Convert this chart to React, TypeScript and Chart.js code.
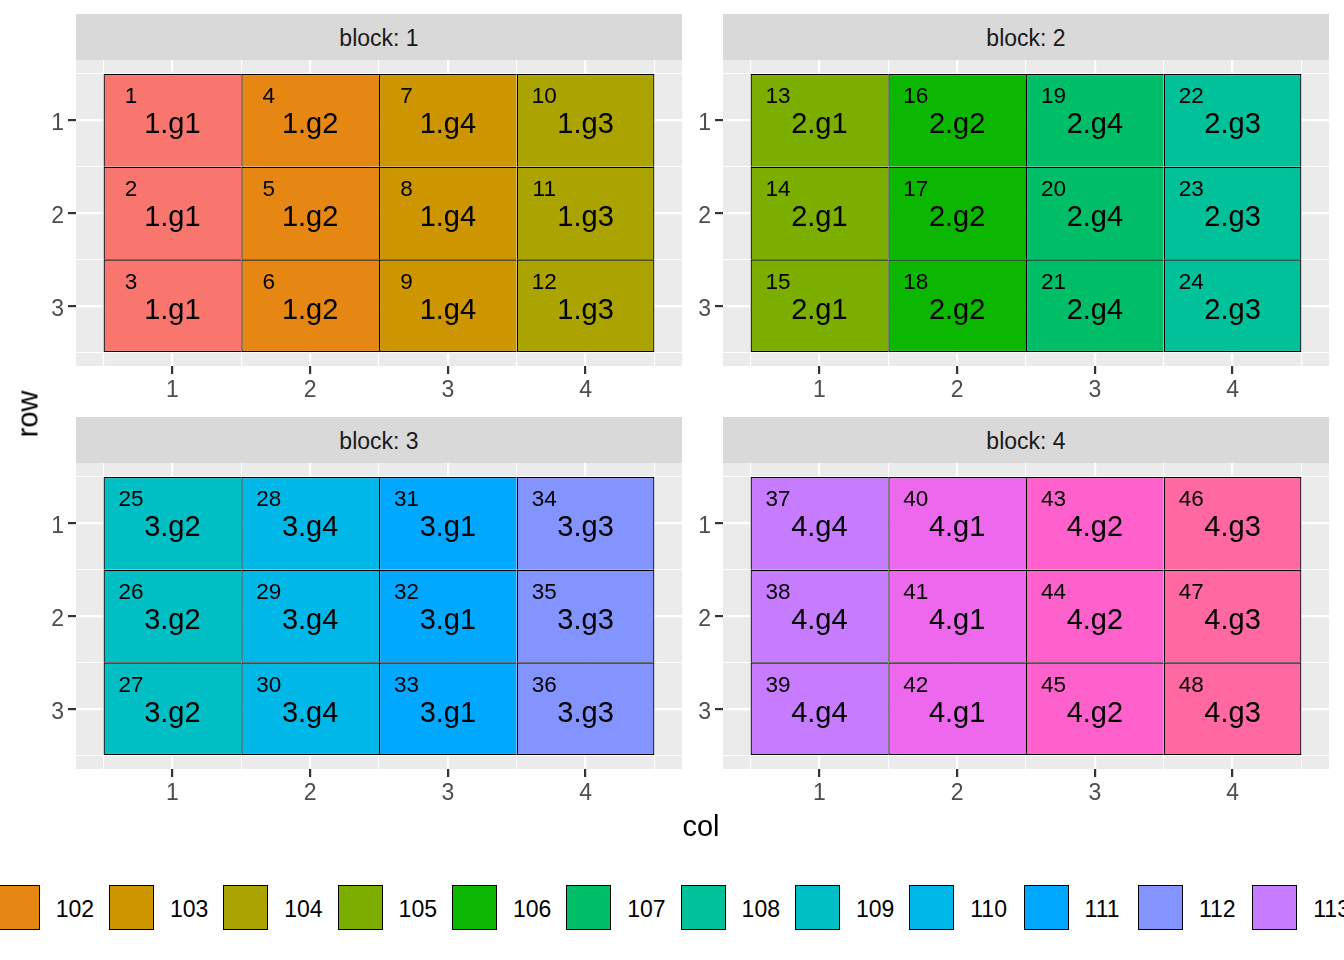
import React, { useEffect, useRef } from 'react';
import { Chart, registerables } from 'chart.js';

Chart.register(...registerables);

// ---------------- data ----------------
const blockNames = ['1', '2', '3', '4'];
const cols = [1, 2, 3, 4];
const rows = [1, 2, 3];

const block1Genotypes = ['1.g1', '1.g2', '1.g4', '1.g3'];
const block2Genotypes = ['2.g1', '2.g2', '2.g4', '2.g3'];
const block3Genotypes = ['3.g2', '3.g4', '3.g1', '3.g3'];
const block4Genotypes = ['4.g4', '4.g1', '4.g2', '4.g3'];

const block1Plots = [101, 102, 103, 104];
const block2Plots = [105, 106, 107, 108];
const block3Plots = [109, 110, 111, 112];
const block4Plots = [113, 114, 115, 116];

// unit ids per column (top→bottom rows)
const block1Ids = [[1, 2, 3], [4, 5, 6], [7, 8, 9], [10, 11, 12]];
const block2Ids = [[13, 14, 15], [16, 17, 18], [19, 20, 21], [22, 23, 24]];
const block3Ids = [[25, 26, 27], [28, 29, 30], [31, 32, 33], [34, 35, 36]];
const block4Ids = [[37, 38, 39], [40, 41, 42], [43, 44, 45], [46, 47, 48]];

const plotLabels = ['101', '102', '103', '104', '105', '106', '107', '108',
  '109', '110', '111', '112', '113', '114', '115', '116'];
const plotColors = ['#F8766D', '#E68613', '#CD9600', '#ABA300', '#7CAE00', '#0CB702',
  '#00BE67', '#00C19A', '#00BFC4', '#00B8E7', '#00A9FF', '#8494FF', '#C77CFF',
  '#ED68ED', '#FF61CC', '#FF68A1'];

const xMajorTicks = [1, 2, 3, 4];
const xMinorTicks = [0.5, 1.5, 2.5, 3.5, 4.5];
const yMajorTicks = [1, 2, 3];
const yMinorTicks = [0.5, 1.5, 2.5, 3.5];
const xRange = [0.3, 4.7];
const yRange = [0.35, 3.65];

// ---------------- layout / style ----------------
const FONT = "'Liberation Sans', Arial, Helvetica, sans-serif";
const panelLeft = [76, 723, 76, 723];
const panelTop = [60, 60, 463, 463];
const PANEL_W = 606;
const PANEL_H = 306;
const STRIP_H = 46;
const AXIS_W = 46;
const AXIS_H = 44;
const ID_DX = -0.3;
const ID_DY = -0.25;
const GENO_DY = 0.055;

const legendLeft = -119.7;
const legendStep = 114.33;

const panels = [
  { block: blockNames[0], genotypes: block1Genotypes, plots: block1Plots, ids: block1Ids },
  { block: blockNames[1], genotypes: block2Genotypes, plots: block2Plots, ids: block2Ids },
  { block: blockNames[2], genotypes: block3Genotypes, plots: block3Plots, ids: block3Ids },
  { block: blockNames[3], genotypes: block4Genotypes, plots: block4Plots, ids: block4Ids },
];

const panelBg = {
  id: 'panelBg',
  beforeDraw(chart: any) {
    const { ctx, chartArea } = chart;
    ctx.save();
    ctx.fillStyle = '#EBEBEB';
    ctx.fillRect(chartArea.left, chartArea.top, chartArea.width, chartArea.height);
    ctx.restore();
  },
};

function makeLabelPlugin(p: any) {
  return {
    id: 'tileLabels',
    afterDatasetsDraw(chart: any) {
      const { ctx } = chart;
      const x = chart.scales.x;
      const y = chart.scales.y;
      ctx.save();
      ctx.fillStyle = '#000000';
      ctx.textAlign = 'center';
      ctx.textBaseline = 'middle';
      cols.forEach((c, ci) => {
        rows.forEach((r, ri) => {
          ctx.font = `22.5px ${FONT}`;
          ctx.fillText(String(p.ids[ci][ri]), x.getPixelForValue(c + ID_DX), y.getPixelForValue(r + ID_DY));
          ctx.font = `29px ${FONT}`;
          ctx.fillText(p.genotypes[ci], x.getPixelForValue(c), y.getPixelForValue(r + GENO_DY));
        });
      });
      ctx.restore();
    },
  };
}

function noPad(s: any) {
  s.paddingTop = 0;
  s.paddingBottom = 0;
  s.paddingLeft = 0;
  s.paddingRight = 0;
}

function buildChart(canvas: HTMLCanvasElement, p: any) {
  const datasets = cols.map((c, ci) => ({
    label: plotLabels[p.plots[ci] - 101],
    data: rows.map((r) => ({ x: c, y: [r - 0.5, r + 0.5] })),
    backgroundColor: plotColors[p.plots[ci] - 101],
    borderColor: '#000000',
    borderWidth: (ctx: any) => {
      const r = rows[ctx.dataIndex];
      return {
        top: 1.3,
        left: 1.3,
        right: ci === cols.length - 1 ? 1.3 : 0,
        bottom: r === rows[rows.length - 1] ? 1.3 : 0,
      };
    },
    borderSkipped: false,
    inflateAmount: 0,
    grouped: false,
    barPercentage: 1,
    categoryPercentage: 1,
    xAxisID: 'x',
    yAxisID: 'y',
  }));

  const tickFont = { family: FONT, size: 23 };
  return new Chart(canvas, {
    type: 'bar',
    data: { datasets } as any,
    plugins: [panelBg, makeLabelPlugin(p)],
    options: {
      responsive: false,
      animation: false,
      events: [],
      layout: { padding: 0 },
      plugins: { legend: { display: false }, tooltip: { enabled: false }, title: { display: false } },
      scales: {
        x: {
          type: 'linear',
          position: 'bottom',
          min: xRange[0],
          max: xRange[1],
          offset: false,
          afterBuildTicks: (s: any) => { s.ticks = xMajorTicks.map((v) => ({ value: v })); },
          afterFit: (s: any) => { s.height = AXIS_H; noPad(s); },
          grid: { color: '#FFFFFF', lineWidth: 2.2, offset: false, drawTicks: true, tickLength: 8, tickColor: '#333333', tickWidth: 2.2 },
          border: { display: false },
          ticks: { color: '#4D4D4D', font: tickFont, padding: 3, maxRotation: 0, autoSkip: false },
        },
        xMinor: {
          type: 'linear',
          position: 'bottom',
          min: xRange[0],
          max: xRange[1],
          offset: false,
          afterBuildTicks: (s: any) => { s.ticks = xMinorTicks.map((v) => ({ value: v })); },
          afterFit: (s: any) => { s.height = 0; noPad(s); },
          grid: { color: '#FFFFFF', lineWidth: 1.1, offset: false, drawTicks: false },
          border: { display: false },
          ticks: { display: false },
        },
        y: {
          type: 'linear',
          position: 'left',
          reverse: true,
          min: yRange[0],
          max: yRange[1],
          afterBuildTicks: (s: any) => { s.ticks = yMajorTicks.map((v) => ({ value: v })); },
          afterFit: (s: any) => { s.width = AXIS_W; noPad(s); },
          grid: { color: '#FFFFFF', lineWidth: 2.2, offset: false, drawTicks: true, tickLength: 8, tickColor: '#333333', tickWidth: 2.2 },
          border: { display: false },
          ticks: { color: '#4D4D4D', font: tickFont, padding: 4, labelOffset: 3.5, autoSkip: false },
        },
        yMinor: {
          type: 'linear',
          position: 'left',
          reverse: true,
          min: yRange[0],
          max: yRange[1],
          afterBuildTicks: (s: any) => { s.ticks = yMinorTicks.map((v) => ({ value: v })); },
          afterFit: (s: any) => { s.width = 0; noPad(s); },
          grid: { color: '#FFFFFF', lineWidth: 1.1, offset: false, drawTicks: false },
          border: { display: false },
          ticks: { display: false },
        },
      },
    } as any,
  });
}

function Panel({ p, idx }: { p: any; idx: number }) {
  const ref = useRef<HTMLCanvasElement | null>(null);
  useEffect(() => {
    if (!ref.current) return;
    const chart = buildChart(ref.current, p);
    return () => chart.destroy();
  }, [p]);
  const left = panelLeft[idx];
  const top = panelTop[idx];
  const w = PANEL_W + AXIS_W;
  const h = PANEL_H + AXIS_H;
  return (
    <>
      <div
        style={{
          position: 'absolute', left, top: top - STRIP_H, width: PANEL_W, height: STRIP_H,
          background: '#D9D9D9', color: '#1A1A1A', fontFamily: FONT, fontSize: 23,
          lineHeight: `${STRIP_H - 3}px`, paddingTop: 3, boxSizing: 'border-box', textAlign: 'center',
        }}
      >
        {`block: ${p.block}`}
      </div>
      <canvas
        ref={ref}
        width={w}
        height={h}
        style={{ position: 'absolute', left: left - AXIS_W, top, width: w, height: h }}
      />
    </>
  );
}

export default function App() {
  return (
    <div
      style={{
        position: 'fixed', left: 0, top: 0, width: 1344, height: 960,
        overflow: 'hidden', background: '#FFFFFF', fontFamily: FONT,
      }}
    >
      {panels.map((p, i) => (
        <Panel key={p.block} p={p} idx={i} />
      ))}
      <div
        style={{
          position: 'absolute', left: 27.5, top: 414, transform: 'translate(-50%, -50%) rotate(-90deg)',
          fontSize: 29, color: '#000000', whiteSpace: 'nowrap', lineHeight: 'normal',
        }}
      >
        row
      </div>
      <div
        style={{
          position: 'absolute', left: 701, top: 825.5, transform: 'translate(-50%, -50%)',
          fontSize: 29, color: '#000000', whiteSpace: 'nowrap', lineHeight: 'normal',
        }}
      >
        col
      </div>
      {plotLabels.map((lab, i) => (
        <React.Fragment key={lab}>
          <div
            style={{
              position: 'absolute', left: legendLeft + i * legendStep, top: 885, width: 45, height: 45,
              background: plotColors[i], border: '1px solid #000000', boxSizing: 'border-box',
            }}
          />
          <div
            style={{
              position: 'absolute', left: legendLeft + i * legendStep + 61, top: 885.7, height: 46,
              lineHeight: '46px', fontSize: 23, color: '#000000', whiteSpace: 'nowrap',
            }}
          >
            {lab}
          </div>
        </React.Fragment>
      ))}
    </div>
  );
}
